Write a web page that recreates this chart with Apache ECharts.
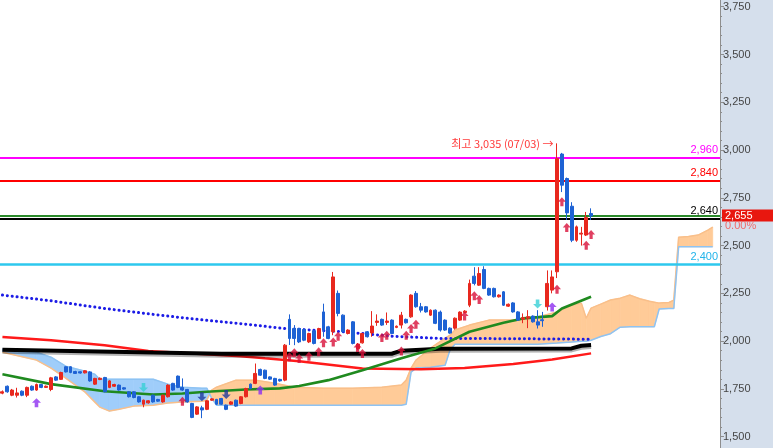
<!DOCTYPE html>
<html><head><meta charset="utf-8">
<script src="https://cdn.jsdelivr.net/npm/echarts@6/dist/echarts.min.js"></script>
<style>html,body{margin:0;padding:0;background:#fff;overflow:hidden}#c{width:773px;height:448px}</style>
</head><body><div id="c"></div><script>
// ---- data ----
const categoryCount = 148;
const categories = Array.from({length: categoryCount}, (_, i) => 'D' + i);
// [open, close, low, high]
const candles = [
[1728,1735,1722,1742],[1764,1735,1730,1768],[1717,1744,1712,1750],[1717,1729,1705,1756],[1738,1717,1712,1742],
[1717,1758,1707,1762],[1764,1744,1740,1768],[1744,1773,1740,1778],[1773,1758,1754,1776],[1758,1764,1755,1768],
[1747,1808,1738,1813],[1813,1796,1792,1817],[1800,1836,1797,1840],[1866,1839,1836,1868],[1866,1836,1832,1868],
[1841,1831,1828,1845],[1840,1833,1830,1843],[1834,1845,1831,1848],[1839,1792,1788,1843],[1775,1805,1771,1808],
[1799,1806,1796,1810],[1810,1735,1732,1813],[1758,1792,1754,1796],[1764,1773,1760,1777],[1770,1744,1740,1773],
[1756,1749,1746,1759],[1735,1709,1705,1738],[1735,1705,1701,1738],[1709,1682,1678,1712],[1670,1691,1654,1694],
[1677,1688,1673,1691],[1717,1682,1678,1720],[1695,1686,1682,1698],[1682,1717,1678,1720],[1709,1770,1705,1774],
[1779,1744,1740,1782],[1817,1758,1754,1820],[1758,1744,1740,1805],[1747,1682,1678,1750],[1674,1601,1597,1677],
[1618,1656,1614,1660],[1651,1640,1597,1662],[1643,1688,1639,1691],[1691,1698,1688,1701],[1695,1670,1666,1698],
[1700,1670,1666,1703],[1665,1643,1639,1668],[1670,1682,1666,1686],[1691,1660,1656,1694],[1674,1709,1670,1712],
[1709,1752,1705,1756],[1775,1752,1748,1778],[1779,1831,1775,1883],[1852,1822,1818,1856],[1848,1805,1801,1851],
[1813,1801,1797,1816],[1805,1770,1766,1808],[1800,1792,1788,1803],[1796,1979,1790,1985],[2114,2014,1980,2140],
[2066,2014,1979,2084],[2066,1996,1990,2070],[2061,2005,2000,2065],[1996,2040,1990,2044],[2054,1988,1983,2058],
[2014,2066,2010,2070],[2153,2058,2023,2196],[2075,2014,2010,2080],[2049,2336,2031,2362],[2250,2145,2130,2265],
[2136,2049,2045,2140],[2040,2058,2035,2062],[2101,1988,1983,2105],[1960,1985,1955,1990],[1991,2040,1987,2044],
[2049,2023,2019,2053],[2043,2079,2023,2157],[2098,2105,2080,2140],[2114,2084,2080,2118],[2098,2105,2085,2150],
[2110,2040,2036,2114],[2072,2078,2068,2082],[2084,2136,2066,2153],[2114,2096,2092,2118],[2127,2241,2122,2245],
[2250,2180,2175,2262],[2180,2162,2150,2200],[2180,2153,2149,2184],[2136,2162,2132,2166],[2162,2093,2089,2166],
[2152,2058,2050,2160],[2110,2058,2054,2114],[2068,2042,2038,2072],[2068,2120,2060,2124],[2110,2152,2106,2156],
[2150,2157,2146,2162],[2188,2302,2178,2322],[2340,2302,2292,2387],[2293,2354,2289,2387],[2375,2276,2272,2392],
[2276,2241,2237,2280],[2276,2232,2228,2280],[2232,2241,2228,2245],[2258,2188,2184,2262],[2183,2193,2179,2197],
[2200,2153,2149,2204],[2153,2110,2106,2157],[2115,2123,2094,2145],[2120,2128,2068,2162],[2131,2101,2097,2135],
[2101,2084,2066,2162],[2112,2107,2075,2153],[2180,2302,2160,2370],[2267,2336,2250,2370],[2363,2955,2330,3035],
[2979,2816,2780,2985],[2851,2671,2634,2856],[2706,2528,2518,2727],[2528,2598,2520,2605],[2560,2565,2500,2598],
[2555,2647,2550,2676],[2668,2655,2634,2695]
];
// Ichimoku cloud: leading span A / B at sample indices
const cloudK = [0,7,10,13,17,19,20,22,24,27,31,34,37,41,42,43,44,48,52,56,60,66,72,78,82,83,84,85,88,91,92,93,96,100,106,110,114,117,119,120,121,123,125,127,129,131,133,134,135,137,138,139,141,143,145,146];
const spanA = [1942,1901,1859,1806,1733,1681,1655,1634,1644,1660,1665,1676,1681,1686,1691,1744,1759,1796,1796,1780,1759,1754,1754,1759,1770,1796,1859,1901,1963,2016,2031,2058,2084,2110,2110,2126,2152,2188,2199,2120,2173,2194,2215,2225,2241,2222,2209,2204,2199,2202,2215,2544,2547,2555,2581,2597];
const spanB = [1958,1942,1916,1869,1843,1827,1801,1801,1801,1801,1801,1775,1759,1754,1754,1702,1665,1665,1665,1665,1665,1665,1665,1665,1665,1670,1838,1859,1864,1874,1953,1984,1984,1984,1984,1984,1990,1995,2000,2000,2005,2024,2039,2073,2075,2075,2075,2075,2168,2171,2171,2494,2494,2494,2494,2494];
// moving-average style lines
const blackK = [0,31,45,80,82,90,117,119,121];
const blackV = [1955,1940,1934,1934,1950,1960,1962,1976,1980];
const redK = [0,10,21,30,49,54,61,74,86,95,105,113,121];
const redV = [2022,2005,1979,1948,1921,1910,1895,1857,1853,1859,1880,1904,1936];
const greenK = [0,10,21,31,37,42,50,57,61,67,74,82,89,96,103,107,113,115,121];
const greenV = [1827,1775,1738,1721,1726,1735,1747,1753,1765,1796,1848,1911,1962,2049,2096,2119,2131,2171,2232];
const dotK = [0,10,21,31,40,50,58,70,80,90,103,121];
const dotV = [2241,2211,2171,2140,2114,2089,2066,2049,2026,2014,2013,2010];
// signal arrows [index, value]
const redUp = [[37,1686],[59,1918],[60,1939],[61,1909],[63,1921],[65,1944],[66,1991],[68,1996],[69,2026],[73,1967],[74,1936],[78,2019],[79,2031],[82,1949],[83,2031],[84,2066],[85,2089],[95,2131],[97,2238],[98,2218],[114,2271],[115,2729],[116,2595],[120,2502],[121,2558]];
const purpleUp = [[7,1677],[53,1744],[113,2179]];
const cyanDown = [[29,1758],[110,2194]];
const navyDown = [[41,1709],[46,1721]];
// horizontal levels
const levelValues = [2960, 2840, 2655, 2640, 2400];
const highIndex = 114, highValue = 3035, highDate = '07/03';
const changeText = '0.00%';
const yTicks = {min: 1500, max: 3750, step: 250};

// ---- chart ----
const fmt = v => Number(v).toLocaleString('en-US');
const zip = (K, V) => K.map((k, i) => [k, V[i]]);
const FONT = "'Liberation Sans', Arial, sans-serif";
const PEACH = '#ffcb98', SKY = '#9fcdfa';
const UP = 'path://M5,0 L10,5 L7,5 L7,10 L3,10 L3,5 L0,5 Z';
const DOWN = 'path://M3,0 L7,0 L7,5 L10,5 L5,10 L0,5 L3,5 Z';

function cloudItem(params, api) {
  const i = params.dataIndex;
  if (i >= cloudK.length - 1) return null;
  const a0 = api.coord([cloudK[i], spanA[i]]), b0 = api.coord([cloudK[i], spanB[i]]);
  const a1 = api.coord([cloudK[i+1], spanA[i+1]]), b1 = api.coord([cloudK[i+1], spanB[i+1]]);
  const d0 = spanA[i] - spanB[i], d1 = spanA[i+1] - spanB[i+1];
  const col = d => d >= 0 ? PEACH : SKY;
  const children = [];
  const poly = (pts, c) => children.push({type: 'polygon', shape: {points: pts}, style: {fill: c, stroke: c, lineWidth: 0.8}});
  if (d0 * d1 >= 0) {
    poly([a0, a1, b1, b0], col(d0 !== 0 ? d0 : d1));
  } else {
    const t = d0 / (d0 - d1);
    const p = [a0[0] + t * (a1[0] - a0[0]), a0[1] + t * (a1[1] - a0[1])];
    poly([a0, p, b0], col(d0));
    poly([p, a1, b1], col(d1));
  }
  return {type: 'group', children};
}

const lastClose = candles[candles.length - 1][1];
const lvlColors = ['#ff00ff', '#ff0000', '#2a8a2a', '#000000', '#2ec8ee'];
const lblColors = ['#ff00ff', '#ff0000', '#2a8a2a', '#000000', '#22b4ea'];
const markData = levelValues.map((v, i) => {
  const item = {yAxis: v, lineStyle: {color: lvlColors[i], width: i === 4 ? 2.5 : 1.8, type: 'solid'}};
  if (i === 2) {
    item.label = {show: true, position: 'end', distance: 2, offset: [0, 5],
      formatter: '{a|' + fmt(lastClose) + '}\n{b|' + changeText + '}',
      rich: {a: {backgroundColor: '#e8170f', color: '#fff', width: 45, padding: [1, 3, 0, 3], fontSize: 11, lineHeight: 11, fontFamily: FONT},
             b: {color: '#f06a6a', fontSize: 11, lineHeight: 11, padding: [0, 3, 0, 3], fontFamily: FONT}}};
  } else {
    item.label = {show: true, position: 'insideEndTop', distance: 2, formatter: fmt(v), color: lblColors[i], fontSize: 11, fontFamily: FONT};
  }
  return item;
});

const chart = echarts.init(document.getElementById('c'), null, {renderer: 'canvas'});
chart.setOption({
  animation: false,
  backgroundColor: '#ffffff',
  grid: {left: -3.3, right: 53, top: 6.7, bottom: 11.3, containLabel: false},
  graphic: [
    {type: 'rect', z: -10, silent: true, shape: {x: 720, y: 0, width: 53, height: 448}, style: {fill: '#d5dfec'}},
    {type: 'line', z: 10, silent: true, shape: {x1: 720.5, y1: 0, x2: 720.5, y2: 448}, style: {stroke: '#8e8e8e', lineWidth: 1}}
  ],
  xAxis: {type: 'category', data: categories, boundaryGap: true, show: false},
  yAxis: {
    type: 'value', position: 'right', min: yTicks.min, max: yTicks.max, interval: yTicks.step, scale: true,
    axisLine: {show: false},
    axisTick: {show: true, length: 4, lineStyle: {color: '#8e8e8e'}},
    minorTick: {show: true, splitNumber: 5, length: 2, lineStyle: {color: '#8e8e8e'}},
    splitLine: {show: false},
    axisLabel: {formatter: v => fmt(v), color: '#454545', fontSize: 11, fontFamily: FONT, margin: 3}
  },
  series: [
    {type: 'custom', name: 'cloud', z: 1, clip: true, renderItem: cloudItem,
     data: cloudK.map((k, i) => [k, spanA[i], spanB[i]]), encode: {x: 0, y: [1, 2]}, silent: true},
    {type: 'line', name: 'spanA', z: 2, data: zip(cloudK, spanA), showSymbol: false, lineStyle: {color: '#f9bf8a', width: 1.5}, silent: true},
    {type: 'line', name: 'spanB', z: 2, data: zip(cloudK, spanB), showSymbol: false, lineStyle: {color: '#8ec3f3', width: 1.5}, silent: true},
    {type: 'line', name: 'dots', z: 3, data: zip(dotK, dotV), showSymbol: false,
     lineStyle: {color: '#1c1ce6', width: 3, type: [0.1, 4.8], cap: 'round'}, silent: true},
    {type: 'line', name: 'ma-red', z: 3, data: zip(redK, redV), showSymbol: false, lineStyle: {color: '#ff1a1a', width: 2.5}, silent: true,
     markLine: {silent: true, symbol: ['none', 'none'], data: markData}},
    {type: 'line', name: 'ma-black', z: 3, data: zip(blackK, blackV), showSymbol: false,
     lineStyle: {color: '#000', width: 4, shadowColor: 'rgba(0,0,0,0.3)', shadowOffsetY: 2}, silent: true},
    {type: 'line', name: 'ma-green', z: 3, data: zip(greenK, greenV), showSymbol: false, lineStyle: {color: '#1f8a1f', width: 2.6}, silent: true},
    {type: 'candlestick', name: 'price', z: 5, data: candles.map(c => c), barWidth: 3.4,
     itemStyle: {color: '#e8281e', color0: '#1e62d4', borderColor: '#e8281e', borderColor0: '#1e62d4', borderWidth: 1},
     markPoint: {silent: true, symbol: 'circle', symbolSize: 1, itemStyle: {color: 'rgba(0,0,0,0)'},
       data: [{coord: [highIndex, highValue], label: {show: true, position: 'left', distance: 3,
         formatter: '최고 ' + fmt(highValue) + ' (' + highDate + ') →', color: '#ff3a3a', fontSize: 11,
         fontFamily: "'Noto Sans CJK KR', 'Liberation Sans', sans-serif"}}]}},
    {type: 'scatter', name: 'sig-red', z: 6, data: redUp, symbol: UP, symbolSize: [8, 9], itemStyle: {color: '#d8103a'}, silent: true},
    {type: 'scatter', name: 'sig-purple', z: 6, data: purpleUp, symbol: UP, symbolSize: [9, 9], itemStyle: {color: '#8d2ef0'}, silent: true},
    {type: 'scatter', name: 'sig-cyan', z: 6, data: cyanDown, symbol: DOWN, symbolSize: [9, 9], itemStyle: {color: '#38cfd6'}, silent: true},
    {type: 'scatter', name: 'sig-navy', z: 6, data: navyDown, symbol: DOWN, symbolSize: [9, 9], itemStyle: {color: '#1f3a9e'}, silent: true}
  ]
});
</script></body></html>
